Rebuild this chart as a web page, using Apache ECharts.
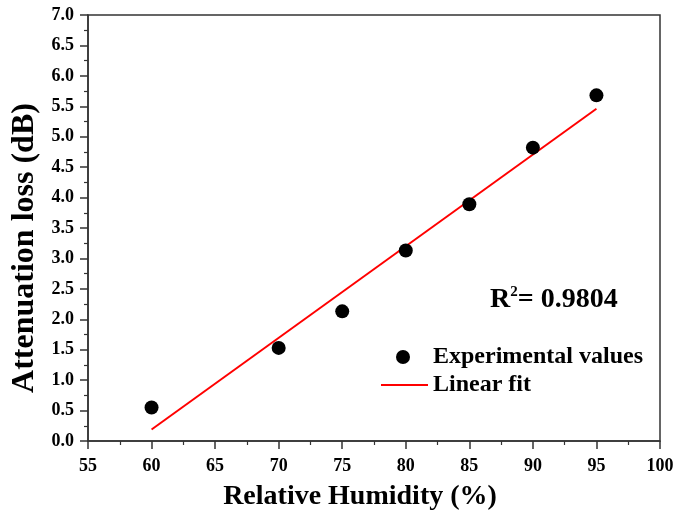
<!DOCTYPE html>
<html>
<head>
<meta charset="utf-8">
<script src="https://cdn.jsdelivr.net/npm/echarts@6/dist/echarts.min.js"></script>
<style>
  html, body { margin: 0; padding: 0; background: #fff; }
  #chart { width: 689px; height: 514px; }
</style>
</head>
<body>
<div id="chart"></div>
<script>
// Relative humidity (%) and measured attenuation loss (dB)
var humidity = [60, 70, 75, 80, 85, 90, 95];
var attenuation = [0.55, 1.53, 2.13, 3.13, 3.89, 4.82, 5.68];
// Endpoints of the least-squares line
var fitX = [60, 95];
var fitY = [0.19, 5.46];
var rSquared = '0.9804';

var seriesNames = ['Experimental values', 'Linear fit'];
var fontFamily = '"Liberation Serif", "Times New Roman", serif';

var scatterData = humidity.map(function (h, i) { return [h, attenuation[i]]; });
var fitData = fitX.map(function (x, i) { return [x, fitY[i]]; });

var chart = echarts.init(document.getElementById('chart'), null, { renderer: 'canvas' });

var axisText = { color: '#000', fontFamily: fontFamily, fontWeight: 'bold', fontSize: 18 };
var legendText = { color: '#000', fontFamily: fontFamily, fontWeight: 'bold', fontSize: 24 };

chart.setOption({
  backgroundColor: '#fff',
  animation: false,
  grid: {
    left: 88, right: 29, top: 15, bottom: 73,
    outerBoundsMode: 'none', containLabel: false,
    show: true, borderColor: '#333', borderWidth: 1.5, backgroundColor: 'transparent'
  },
  xAxis: {
    type: 'value', min: 55, max: 100, interval: 5,
    name: 'Relative Humidity (%)', nameLocation: 'middle', nameGap: 42,
    nameTextStyle: { color: '#000', fontFamily: fontFamily, fontWeight: 'bold', fontSize: 28, padding: [0, 28, 0, 0] },
    axisLine: { show: true, onZero: false, lineStyle: { color: '#333', width: 1.5 } },
    axisTick: { show: true, inside: false, length: 8, lineStyle: { color: '#333', width: 1.5 } },
    minorTick: { show: true, splitNumber: 2, length: 4, lineStyle: { color: '#333', width: 1.2 } },
    axisLabel: Object.assign({ margin: 16 }, axisText),
    splitLine: { show: false }
  },
  yAxis: {
    type: 'value', min: 0, max: 7, interval: 0.5,
    name: 'Attenuation loss (dB)', nameLocation: 'middle', nameGap: 44, nameRotate: 90,
    nameTextStyle: { color: '#000', fontFamily: fontFamily, fontWeight: 'bold', fontSize: 32, padding: [0, 40, 0, 0] },
    axisLine: { show: true, onZero: false, lineStyle: { color: '#333', width: 1.5 } },
    axisTick: { show: true, inside: false, length: 8, lineStyle: { color: '#333', width: 1.5 } },
    minorTick: { show: true, splitNumber: 2, length: 4, lineStyle: { color: '#333', width: 1.2 } },
    axisLabel: Object.assign({ margin: 14, formatter: function (v) { return v.toFixed(1); } }, axisText),
    splitLine: { show: false }
  },
  legend: [
    {
      data: [seriesNames[0]], left: 396, top: 345, padding: 0,
      itemWidth: 14, itemHeight: 14, itemGap: 0,
      textStyle: Object.assign({ padding: [0, 0, 0, 18] }, legendText)
    },
    {
      data: [seriesNames[1]], left: 380, top: 373, padding: 0,
      itemWidth: 47, itemHeight: 2, itemGap: 0,
      textStyle: Object.assign({ padding: [0, 0, 0, 0] }, legendText)
    }
  ],
  graphic: [
    {
      type: 'text', left: 490, top: 285,
      style: {
        text: '{r|R}{sup|2}{r|= ' + rSquared + '}',
        rich: {
          r: { fontFamily: fontFamily, fontWeight: 'bold', fontSize: 28, fill: '#000', verticalAlign: 'bottom' },
          sup: { fontFamily: fontFamily, fontWeight: 'bold', fontSize: 15, fill: '#000', verticalAlign: 'top', padding: [0, 0, 14, 0] }
        }
      }
    }
  ],
  series: [
    {
      name: seriesNames[0], type: 'scatter', data: scatterData,
      symbol: 'circle', symbolSize: 14,
      itemStyle: { color: '#000', opacity: 1 }, z: 3
    },
    {
      name: seriesNames[1], type: 'line', data: fitData,
      symbol: 'none', showSymbol: false, legendIcon: 'rect',
      lineStyle: { color: '#ff0000', width: 2 },
      itemStyle: { color: '#ff0000' }, z: 2
    }
  ]
});
</script>
</body>
</html>
